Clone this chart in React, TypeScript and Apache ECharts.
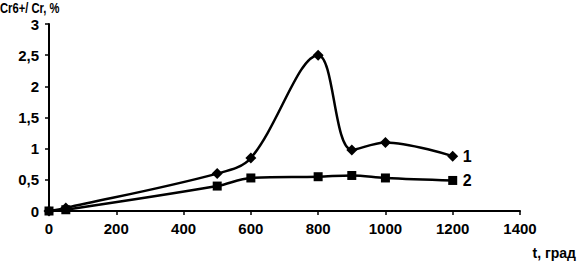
import React, { useEffect, useRef } from "react";
import * as echarts from "echarts";

const temps = [0, 50, 500, 600, 800, 900, 1000, 1200];
const series1 = [0, 0.05, 0.6, 0.85, 2.5, 0.98, 1.1, 0.88];
const series2 = [0, 0.02, 0.4, 0.53, 0.55, 0.57, 0.53, 0.49];
const seriesNames = ["1", "2"];
const yTitle = "Cr6+/ Cr, %";
const xTitle = "t, град";

const FONT = "Liberation Sans";

export default function App() {
  const ref = useRef<HTMLDivElement>(null);
  useEffect(() => {
    if (!ref.current) return;
    const chart = echarts.init(ref.current, null, { renderer: "svg" });
    const mk = (vals: number[]) => temps.map((t, i) => [t, vals[i]]);
    const txt = { fontFamily: FONT, fontSize: 15, fontWeight: "bold" as const, color: "#000" };
    chart.setOption({
      animation: false,
      backgroundColor: "#fff",
      grid: { left: 49, top: 24, right: 58, bottom: 55 },
      xAxis: {
        type: "value",
        min: 0,
        max: 1400,
        interval: 200,
        splitLine: { show: false },
        axisLine: { show: true, lineStyle: { color: "#000", width: 2 } },
        axisTick: { show: true, length: 4, lineStyle: { color: "#000", width: 1.5 } },
        axisLabel: { ...txt, margin: 10, formatter: (v: number) => String(v) },
      },
      yAxis: {
        type: "value",
        min: 0,
        max: 3,
        interval: 0.5,
        splitLine: { show: false },
        axisLine: { show: true, lineStyle: { color: "#000", width: 2 } },
        axisTick: { show: true, length: 4, lineStyle: { color: "#000", width: 1.5 } },
        axisLabel: {
          ...txt,
          margin: 10,
          formatter: (v: number) => String(v).replace(".", ","),
        },
      },
      graphic: [
        { type: "text", x: 0, y: 2, scaleX: 0.8, style: { text: yTitle, font: `bold 14px ${FONT}`, fill: "#000" } },
        { type: "text", right: 2, top: 246, style: { text: xTitle, font: `bold 14px ${FONT}`, fill: "#000" } },
      ],
      series: [
        {
          name: seriesNames[0],
          type: "line",
          data: mk(series1),
          smooth: 0.35,
          symbol: "diamond",
          symbolSize: 11,
          lineStyle: { color: "#000", width: 2.5 },
          itemStyle: { color: "#000" },
          endLabel: { show: true, formatter: seriesNames[0], ...txt, fontSize: 16, distance: 10 },
        },
        {
          name: seriesNames[1],
          type: "line",
          data: mk(series2),
          smooth: 0.35,
          symbol: "rect",
          symbolSize: 9,
          lineStyle: { color: "#000", width: 2.5 },
          itemStyle: { color: "#000" },
          endLabel: { show: true, formatter: seriesNames[1], ...txt, fontSize: 16, distance: 10 },
        },
      ],
    });
    return () => chart.dispose();
  }, []);
  return <div ref={ref} style={{ width: 578, height: 266, position: "absolute", left: 0, top: 0 }} />;
}
